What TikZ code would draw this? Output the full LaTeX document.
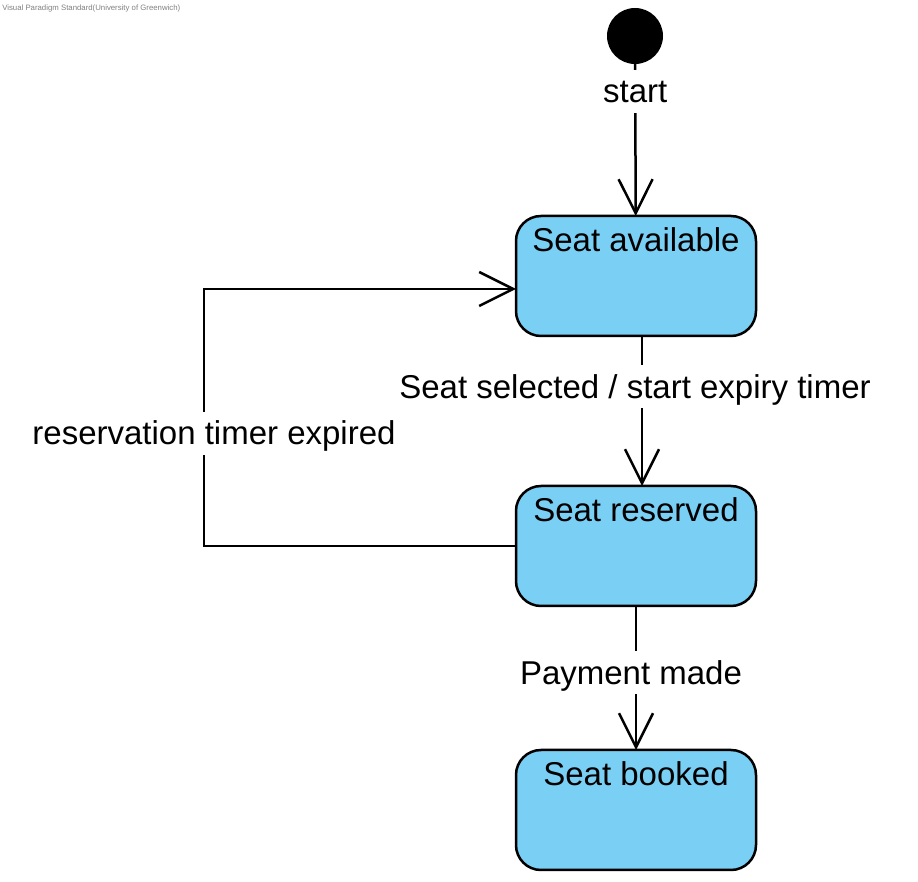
\documentclass[tikz,border=0pt]{standalone}
\usepackage{fontspec}
\setmainfont{Liberation Sans}
\usepackage{tikz}
\usetikzlibrary{arrows.meta,positioning}
\definecolor{stateblue}{RGB}{122,207,245}

\begin{document}
\begin{tikzpicture}[x=0.5pt, y=-0.5pt, line width=1.25pt, font=\fontsize{16.5}{20}\selectfont]
\tikzstyle{state} = [rectangle, draw, fill=stateblue, rounded corners=12.5pt, minimum width=120pt, minimum height=60pt, inner sep=0pt, outer sep=0pt, text height=18pt, text depth=42pt]
\tikzstyle{initial} = [circle, fill=black, minimum size=28pt, inner sep=0pt, outer sep=0pt]
\tikzstyle{trans} = [->, >={Straight Barb[length=17pt, width=17pt]}]
\tikzstyle{guard} = [fill=white, inner xsep=2pt, inner ysep=1.5pt, text height=15pt, text depth=3.5pt]

\useasboundingbox (0,0) rectangle (918,882);
\node [anchor=north west, text=gray, font=\fontsize{3.9}{4}\selectfont, inner sep=0pt] (watermark) at (1,4) {Visual Paradigm Standard(University of Greenwich)};

\node [state] (available) at (636,276) {Seat available};
\node [state, below=75pt of available] (reserved) {Seat reserved};
\node [state, below=72pt of reserved] (booked) {Seat booked};
\node [initial, above=76pt of available, xshift=-0.5pt] (init) {};

\coordinate (loopbottom) at (204,546);
\coordinate (looptop) at (204,289);

\draw [trans] (init) -- (available) node[guard, pos=0.18] {start};
\draw [trans] ([xshift=3pt]available.south) -- ([xshift=3pt]reserved.north) node[guard, pos=0.34, xshift=-3.5pt] {Seat selected / start expiry timer};
\draw [trans] (reserved) -- (booked) node[guard, pos=0.465, xshift=-2.5pt] {Payment made};
\draw [trans] (reserved.west) -- (loopbottom) -- (looptop) node[guard, pos=0.438, xshift=5pt] {reservation timer expired} -- ([yshift=-6.5pt]available.west);

\end{tikzpicture}
\end{document}
